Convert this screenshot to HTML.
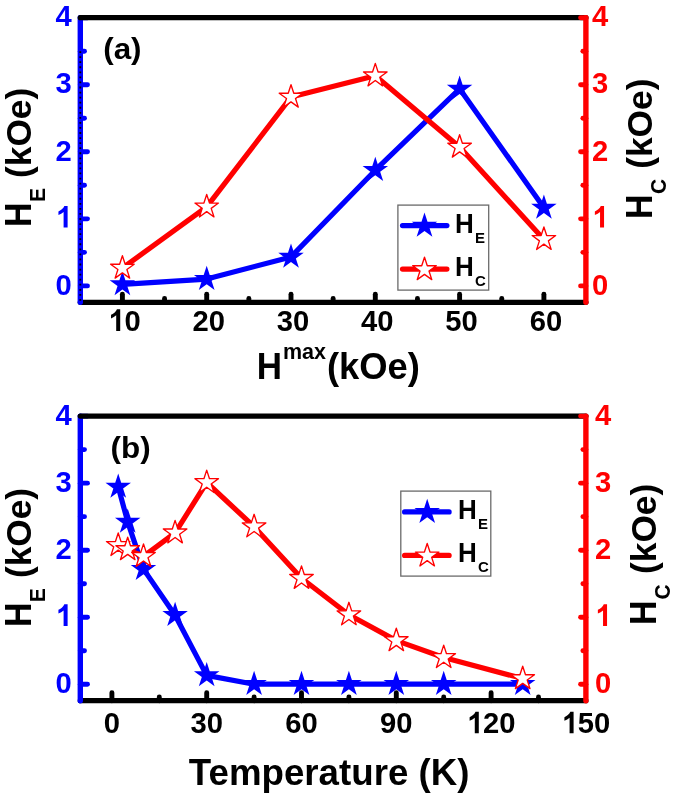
<!DOCTYPE html>
<html><head><meta charset="utf-8"><style>
html,body{margin:0;padding:0;background:#fff;}
svg{display:block;will-change:transform;}
text{font-family:"Liberation Sans",sans-serif;font-weight:bold;}
</style></head><body>
<svg width="675" height="797" viewBox="0 0 675 797">
<rect width="675" height="797" fill="#fff"/>
<polyline points="122.40,284.40 206.70,279.10 291.00,256.90 375.30,170.20 459.60,88.80 543.90,207.80" fill="none" stroke="#0000FF" stroke-width="5.2" stroke-linejoin="round" stroke-linecap="round"/>
<polygon points="122.40,271.00 125.41,280.26 135.14,280.26 127.27,285.98 130.28,295.24 122.40,289.52 114.52,295.24 117.53,285.98 109.66,280.26 119.39,280.26" fill="#0000FF"/>
<polygon points="206.70,265.70 209.71,274.96 219.44,274.96 211.57,280.68 214.58,289.94 206.70,284.22 198.82,289.94 201.83,280.68 193.96,274.96 203.69,274.96" fill="#0000FF"/>
<polygon points="291.00,243.50 294.01,252.76 303.74,252.76 295.87,258.48 298.88,267.74 291.00,262.02 283.12,267.74 286.13,258.48 278.26,252.76 287.99,252.76" fill="#0000FF"/>
<polygon points="375.30,156.80 378.31,166.06 388.04,166.06 380.17,171.78 383.18,181.04 375.30,175.32 367.42,181.04 370.43,171.78 362.56,166.06 372.29,166.06" fill="#0000FF"/>
<polygon points="459.60,75.40 462.61,84.66 472.34,84.66 464.47,90.38 467.48,99.64 459.60,93.92 451.72,99.64 454.73,90.38 446.86,84.66 456.59,84.66" fill="#0000FF"/>
<polygon points="543.90,194.40 546.91,203.66 556.64,203.66 548.77,209.38 551.78,218.64 543.90,212.92 536.02,218.64 539.03,209.38 531.16,203.66 540.89,203.66" fill="#0000FF"/>
<polyline points="122.40,268.10 206.70,206.90 291.00,97.10 375.30,75.80 459.60,147.10 543.90,239.40" fill="none" stroke="#FF0000" stroke-width="5.2" stroke-linejoin="round" stroke-linecap="round"/>
<polygon points="122.40,255.70 125.18,264.27 134.19,264.27 126.90,269.56 129.69,278.13 122.40,272.84 115.11,278.13 117.90,269.56 110.61,264.27 119.62,264.27" fill="#fff" stroke="#FF0000" stroke-width="1.35" stroke-linejoin="round"/>
<polygon points="206.70,194.50 209.48,203.07 218.49,203.07 211.20,208.36 213.99,216.93 206.70,211.64 199.41,216.93 202.20,208.36 194.91,203.07 203.92,203.07" fill="#fff" stroke="#FF0000" stroke-width="1.35" stroke-linejoin="round"/>
<polygon points="291.00,84.70 293.78,93.27 302.79,93.27 295.50,98.56 298.29,107.13 291.00,101.84 283.71,107.13 286.50,98.56 279.21,93.27 288.22,93.27" fill="#fff" stroke="#FF0000" stroke-width="1.35" stroke-linejoin="round"/>
<polygon points="375.30,63.40 378.08,71.97 387.09,71.97 379.80,77.26 382.59,85.83 375.30,80.54 368.01,85.83 370.80,77.26 363.51,71.97 372.52,71.97" fill="#fff" stroke="#FF0000" stroke-width="1.35" stroke-linejoin="round"/>
<polygon points="459.60,134.70 462.38,143.27 471.39,143.27 464.10,148.56 466.89,157.13 459.60,151.84 452.31,157.13 455.10,148.56 447.81,143.27 456.82,143.27" fill="#fff" stroke="#FF0000" stroke-width="1.35" stroke-linejoin="round"/>
<polygon points="543.90,227.00 546.68,235.57 555.69,235.57 548.40,240.86 551.19,249.43 543.90,244.14 536.61,249.43 539.40,240.86 532.11,235.57 541.12,235.57" fill="#fff" stroke="#FF0000" stroke-width="1.35" stroke-linejoin="round"/>
<line x1="80.3" y1="302.3" x2="585.9" y2="302.3" stroke="#000" stroke-width="5.3" stroke-linecap="round"/>
<line x1="122.40" y1="302.3" x2="122.40" y2="294.30" stroke="#000" stroke-width="4.9" stroke-linecap="round"/>
<line x1="206.70" y1="302.3" x2="206.70" y2="294.30" stroke="#000" stroke-width="4.9" stroke-linecap="round"/>
<line x1="291.00" y1="302.3" x2="291.00" y2="294.30" stroke="#000" stroke-width="4.9" stroke-linecap="round"/>
<line x1="375.30" y1="302.3" x2="375.30" y2="294.30" stroke="#000" stroke-width="4.9" stroke-linecap="round"/>
<line x1="459.60" y1="302.3" x2="459.60" y2="294.30" stroke="#000" stroke-width="4.9" stroke-linecap="round"/>
<line x1="543.90" y1="302.3" x2="543.90" y2="294.30" stroke="#000" stroke-width="4.9" stroke-linecap="round"/>
<line x1="164.55" y1="302.3" x2="164.55" y2="298.50" stroke="#000" stroke-width="4.9" stroke-linecap="round"/>
<line x1="248.85" y1="302.3" x2="248.85" y2="298.50" stroke="#000" stroke-width="4.9" stroke-linecap="round"/>
<line x1="333.15" y1="302.3" x2="333.15" y2="298.50" stroke="#000" stroke-width="4.9" stroke-linecap="round"/>
<line x1="417.45" y1="302.3" x2="417.45" y2="298.50" stroke="#000" stroke-width="4.9" stroke-linecap="round"/>
<line x1="501.75" y1="302.3" x2="501.75" y2="298.50" stroke="#000" stroke-width="4.9" stroke-linecap="round"/>
<line x1="80.3" y1="17.7" x2="80.3" y2="302.3" stroke="#0000FF" stroke-width="5.4" stroke-linecap="round"/>
<line x1="80.3" y1="285.90" x2="87.50" y2="285.90" stroke="#0000FF" stroke-width="4.9" stroke-linecap="round"/>
<line x1="80.3" y1="252.37" x2="84.50" y2="252.37" stroke="#0000FF" stroke-width="4.9" stroke-linecap="round"/>
<line x1="80.3" y1="218.85" x2="87.50" y2="218.85" stroke="#0000FF" stroke-width="4.9" stroke-linecap="round"/>
<line x1="80.3" y1="185.32" x2="84.50" y2="185.32" stroke="#0000FF" stroke-width="4.9" stroke-linecap="round"/>
<line x1="80.3" y1="151.80" x2="87.50" y2="151.80" stroke="#0000FF" stroke-width="4.9" stroke-linecap="round"/>
<line x1="80.3" y1="118.27" x2="84.50" y2="118.27" stroke="#0000FF" stroke-width="4.9" stroke-linecap="round"/>
<line x1="80.3" y1="84.75" x2="87.50" y2="84.75" stroke="#0000FF" stroke-width="4.9" stroke-linecap="round"/>
<line x1="80.3" y1="51.22" x2="84.50" y2="51.22" stroke="#0000FF" stroke-width="4.9" stroke-linecap="round"/>
<line x1="80.3" y1="17.70" x2="87.50" y2="17.70" stroke="#0000FF" stroke-width="4.9" stroke-linecap="round"/>
<line x1="80.3" y1="51.2" x2="80.3" y2="302.3" stroke="#000" stroke-width="1.8" stroke-dasharray="1.8 3.257"/>
<line x1="80.3" y1="17.7" x2="585.9" y2="17.7" stroke="#000" stroke-width="5.3" stroke-linecap="round"/>
<line x1="585.9" y1="17.7" x2="585.9" y2="302.3" stroke="#FF0000" stroke-width="5.4" stroke-linecap="round"/>
<line x1="585.9" y1="285.90" x2="580.60" y2="285.90" stroke="#FF0000" stroke-width="4.9" stroke-linecap="round"/>
<line x1="585.9" y1="252.37" x2="582.90" y2="252.37" stroke="#FF0000" stroke-width="4.9" stroke-linecap="round"/>
<line x1="585.9" y1="218.85" x2="580.60" y2="218.85" stroke="#FF0000" stroke-width="4.9" stroke-linecap="round"/>
<line x1="585.9" y1="185.32" x2="582.90" y2="185.32" stroke="#FF0000" stroke-width="4.9" stroke-linecap="round"/>
<line x1="585.9" y1="151.80" x2="580.60" y2="151.80" stroke="#FF0000" stroke-width="4.9" stroke-linecap="round"/>
<line x1="585.9" y1="118.27" x2="582.90" y2="118.27" stroke="#FF0000" stroke-width="4.9" stroke-linecap="round"/>
<line x1="585.9" y1="84.75" x2="580.60" y2="84.75" stroke="#FF0000" stroke-width="4.9" stroke-linecap="round"/>
<line x1="585.9" y1="51.22" x2="582.90" y2="51.22" stroke="#FF0000" stroke-width="4.9" stroke-linecap="round"/>
<line x1="585.9" y1="17.70" x2="580.60" y2="17.70" stroke="#FF0000" stroke-width="4.9" stroke-linecap="round"/>
<text transform="translate(55.56,294.60) scale(1,1.03)" font-size="29.2" fill="#0000FF">0</text>
<text transform="translate(592.00,294.60) scale(1,1.03)" font-size="29.2" fill="#FF0000">0</text>
<path d="M 845 0 L 564 0 L 564 1059 C 461 963 340 891 201 846 L 201 1101 C 274 1125 354 1171 440 1238 C 526 1306 585 1383 617 1471 L 845 1471 Z" fill="#0000FF" transform="translate(55.56,227.55) scale(0.01426,-0.01469)"/>
<path d="M 845 0 L 564 0 L 564 1059 C 461 963 340 891 201 846 L 201 1101 C 274 1125 354 1171 440 1238 C 526 1306 585 1383 617 1471 L 845 1471 Z" fill="#FF0000" transform="translate(592.00,227.55) scale(0.01426,-0.01469)"/>
<text transform="translate(55.56,160.50) scale(1,1.03)" font-size="29.2" fill="#0000FF">2</text>
<text transform="translate(592.00,160.50) scale(1,1.03)" font-size="29.2" fill="#FF0000">2</text>
<text transform="translate(55.56,93.45) scale(1,1.03)" font-size="29.2" fill="#0000FF">3</text>
<text transform="translate(592.00,93.45) scale(1,1.03)" font-size="29.2" fill="#FF0000">3</text>
<text transform="translate(55.56,26.40) scale(1,1.03)" font-size="29.2" fill="#0000FF">4</text>
<text transform="translate(592.00,26.40) scale(1,1.03)" font-size="29.2" fill="#FF0000">4</text>
<path d="M 845 0 L 564 0 L 564 1059 C 461 963 340 891 201 846 L 201 1101 C 274 1125 354 1171 440 1238 C 526 1306 585 1383 617 1471 L 845 1471 Z" fill="#000" transform="translate(108.16,330.90) scale(0.01426,-0.01469)"/><text transform="translate(124.40,330.90) scale(1,1.03)" font-size="29.2" fill="#000">0</text>
<text transform="translate(192.46,330.90) scale(1,1.03)" font-size="29.2" fill="#000">20</text>
<text transform="translate(276.76,330.90) scale(1,1.03)" font-size="29.2" fill="#000">30</text>
<text transform="translate(361.06,330.90) scale(1,1.03)" font-size="29.2" fill="#000">40</text>
<text transform="translate(445.36,330.90) scale(1,1.03)" font-size="29.2" fill="#000">50</text>
<text transform="translate(529.66,330.90) scale(1,1.03)" font-size="29.2" fill="#000">60</text>
<rect x="397.90000000000003" y="205.1" width="90.8" height="85" fill="none" stroke="#6a6a6a" stroke-width="1.3"/>
<line x1="402.5" y1="225.6" x2="446.90000000000003" y2="225.6" stroke="#0000FF" stroke-width="5.2" stroke-linecap="round"/>
<polygon points="424.50,212.50 427.51,221.76 437.24,221.76 429.37,227.48 432.38,236.74 424.50,231.02 416.62,236.74 419.63,227.48 411.76,221.76 421.49,221.76" fill="#0000FF"/>
<line x1="402.5" y1="269.1" x2="446.90000000000003" y2="269.1" stroke="#FF0000" stroke-width="5.2" stroke-linecap="round"/>
<polygon points="424.50,257.20 427.28,265.77 436.29,265.77 429.00,271.06 431.79,279.63 424.50,274.34 417.21,279.63 420.00,271.06 412.71,265.77 421.72,265.77" fill="#fff" stroke="#FF0000" stroke-width="1.35" stroke-linejoin="round"/>
<text transform="translate(455.00,232.60) scale(1,1.04)" font-size="26" fill="#000">H</text>
<text transform="translate(475.10,243.10) scale(1,1.02)" font-size="15" fill="#000">E</text>
<text transform="translate(455.00,276.00) scale(1,1.04)" font-size="26" fill="#000">H</text>
<text transform="translate(475.10,286.30) scale(1,1.02)" font-size="15" fill="#000">C</text>
<text transform="translate(103.20,59.40) scale(1,0.95)" font-size="31.4" fill="#000">(a)</text>
<polyline points="118.22,486.80 127.70,521.90 143.50,569.10 175.10,615.20 206.70,675.40 254.10,684.20 301.50,684.20 348.90,684.20 396.30,684.20 443.70,684.20 522.70,684.20" fill="none" stroke="#0000FF" stroke-width="5.2" stroke-linejoin="round" stroke-linecap="round"/>
<polygon points="118.22,473.40 121.23,482.66 130.96,482.66 123.09,488.38 126.10,497.64 118.22,491.92 110.34,497.64 113.35,488.38 105.48,482.66 115.21,482.66" fill="#0000FF"/>
<polygon points="127.70,508.50 130.71,517.76 140.44,517.76 132.57,523.48 135.58,532.74 127.70,527.02 119.82,532.74 122.83,523.48 114.96,517.76 124.69,517.76" fill="#0000FF"/>
<polygon points="143.50,555.70 146.51,564.96 156.24,564.96 148.37,570.68 151.38,579.94 143.50,574.22 135.62,579.94 138.63,570.68 130.76,564.96 140.49,564.96" fill="#0000FF"/>
<polygon points="175.10,601.80 178.11,611.06 187.84,611.06 179.97,616.78 182.98,626.04 175.10,620.32 167.22,626.04 170.23,616.78 162.36,611.06 172.09,611.06" fill="#0000FF"/>
<polygon points="206.70,662.00 209.71,671.26 219.44,671.26 211.57,676.98 214.58,686.24 206.70,680.52 198.82,686.24 201.83,676.98 193.96,671.26 203.69,671.26" fill="#0000FF"/>
<polygon points="254.10,670.80 257.11,680.06 266.84,680.06 258.97,685.78 261.98,695.04 254.10,689.32 246.22,695.04 249.23,685.78 241.36,680.06 251.09,680.06" fill="#0000FF"/>
<polygon points="301.50,670.80 304.51,680.06 314.24,680.06 306.37,685.78 309.38,695.04 301.50,689.32 293.62,695.04 296.63,685.78 288.76,680.06 298.49,680.06" fill="#0000FF"/>
<polygon points="348.90,670.80 351.91,680.06 361.64,680.06 353.77,685.78 356.78,695.04 348.90,689.32 341.02,695.04 344.03,685.78 336.16,680.06 345.89,680.06" fill="#0000FF"/>
<polygon points="396.30,670.80 399.31,680.06 409.04,680.06 401.17,685.78 404.18,695.04 396.30,689.32 388.42,695.04 391.43,685.78 383.56,680.06 393.29,680.06" fill="#0000FF"/>
<polygon points="443.70,670.80 446.71,680.06 456.44,680.06 448.57,685.78 451.58,695.04 443.70,689.32 435.82,695.04 438.83,685.78 430.96,680.06 440.69,680.06" fill="#0000FF"/>
<polygon points="522.70,670.80 525.71,680.06 535.44,680.06 527.57,685.78 530.58,695.04 522.70,689.32 514.82,695.04 517.83,685.78 509.96,680.06 519.69,680.06" fill="#0000FF"/>
<polyline points="118.22,545.40 127.70,549.60 143.50,556.30 175.10,532.80 206.70,482.50 254.10,526.70 301.50,578.30 348.90,614.70 396.30,640.60 443.70,657.50 522.70,678.60" fill="none" stroke="#FF0000" stroke-width="5.2" stroke-linejoin="round" stroke-linecap="round"/>
<polygon points="118.22,533.00 121.00,541.57 130.01,541.57 122.72,546.86 125.51,555.43 118.22,550.14 110.93,555.43 113.72,546.86 106.43,541.57 115.44,541.57" fill="#fff" stroke="#FF0000" stroke-width="1.35" stroke-linejoin="round"/>
<polygon points="127.70,537.20 130.48,545.77 139.49,545.77 132.20,551.06 134.99,559.63 127.70,554.34 120.41,559.63 123.20,551.06 115.91,545.77 124.92,545.77" fill="#fff" stroke="#FF0000" stroke-width="1.35" stroke-linejoin="round"/>
<polygon points="143.50,543.90 146.28,552.47 155.29,552.47 148.00,557.76 150.79,566.33 143.50,561.04 136.21,566.33 139.00,557.76 131.71,552.47 140.72,552.47" fill="#fff" stroke="#FF0000" stroke-width="1.35" stroke-linejoin="round"/>
<polygon points="175.10,520.40 177.88,528.97 186.89,528.97 179.60,534.26 182.39,542.83 175.10,537.54 167.81,542.83 170.60,534.26 163.31,528.97 172.32,528.97" fill="#fff" stroke="#FF0000" stroke-width="1.35" stroke-linejoin="round"/>
<polygon points="206.70,470.10 209.48,478.67 218.49,478.67 211.20,483.96 213.99,492.53 206.70,487.24 199.41,492.53 202.20,483.96 194.91,478.67 203.92,478.67" fill="#fff" stroke="#FF0000" stroke-width="1.35" stroke-linejoin="round"/>
<polygon points="254.10,514.30 256.88,522.87 265.89,522.87 258.60,528.16 261.39,536.73 254.10,531.44 246.81,536.73 249.60,528.16 242.31,522.87 251.32,522.87" fill="#fff" stroke="#FF0000" stroke-width="1.35" stroke-linejoin="round"/>
<polygon points="301.50,565.90 304.28,574.47 313.29,574.47 306.00,579.76 308.79,588.33 301.50,583.04 294.21,588.33 297.00,579.76 289.71,574.47 298.72,574.47" fill="#fff" stroke="#FF0000" stroke-width="1.35" stroke-linejoin="round"/>
<polygon points="348.90,602.30 351.68,610.87 360.69,610.87 353.40,616.16 356.19,624.73 348.90,619.44 341.61,624.73 344.40,616.16 337.11,610.87 346.12,610.87" fill="#fff" stroke="#FF0000" stroke-width="1.35" stroke-linejoin="round"/>
<polygon points="396.30,628.20 399.08,636.77 408.09,636.77 400.80,642.06 403.59,650.63 396.30,645.34 389.01,650.63 391.80,642.06 384.51,636.77 393.52,636.77" fill="#fff" stroke="#FF0000" stroke-width="1.35" stroke-linejoin="round"/>
<polygon points="443.70,645.10 446.48,653.67 455.49,653.67 448.20,658.96 450.99,667.53 443.70,662.24 436.41,667.53 439.20,658.96 431.91,653.67 440.92,653.67" fill="#fff" stroke="#FF0000" stroke-width="1.35" stroke-linejoin="round"/>
<polygon points="522.70,666.20 525.48,674.77 534.49,674.77 527.20,680.06 529.99,688.63 522.70,683.34 515.41,688.63 518.20,680.06 510.91,674.77 519.92,674.77" fill="#fff" stroke="#FF0000" stroke-width="1.35" stroke-linejoin="round"/>
<line x1="80.3" y1="700.7" x2="585.9" y2="700.7" stroke="#000" stroke-width="5.3" stroke-linecap="round"/>
<line x1="111.90" y1="700.7" x2="111.90" y2="692.70" stroke="#000" stroke-width="4.9" stroke-linecap="round"/>
<line x1="206.70" y1="700.7" x2="206.70" y2="692.70" stroke="#000" stroke-width="4.9" stroke-linecap="round"/>
<line x1="301.50" y1="700.7" x2="301.50" y2="692.70" stroke="#000" stroke-width="4.9" stroke-linecap="round"/>
<line x1="396.30" y1="700.7" x2="396.30" y2="692.70" stroke="#000" stroke-width="4.9" stroke-linecap="round"/>
<line x1="491.10" y1="700.7" x2="491.10" y2="692.70" stroke="#000" stroke-width="4.9" stroke-linecap="round"/>
<line x1="159.30" y1="700.7" x2="159.30" y2="696.90" stroke="#000" stroke-width="4.9" stroke-linecap="round"/>
<line x1="254.10" y1="700.7" x2="254.10" y2="696.90" stroke="#000" stroke-width="4.9" stroke-linecap="round"/>
<line x1="348.90" y1="700.7" x2="348.90" y2="696.90" stroke="#000" stroke-width="4.9" stroke-linecap="round"/>
<line x1="443.70" y1="700.7" x2="443.70" y2="696.90" stroke="#000" stroke-width="4.9" stroke-linecap="round"/>
<line x1="538.50" y1="700.7" x2="538.50" y2="696.90" stroke="#000" stroke-width="4.9" stroke-linecap="round"/>
<line x1="80.3" y1="416.09999999999997" x2="80.3" y2="700.7" stroke="#0000FF" stroke-width="5.4" stroke-linecap="round"/>
<line x1="80.3" y1="684.30" x2="87.50" y2="684.30" stroke="#0000FF" stroke-width="4.9" stroke-linecap="round"/>
<line x1="80.3" y1="650.77" x2="84.50" y2="650.77" stroke="#0000FF" stroke-width="4.9" stroke-linecap="round"/>
<line x1="80.3" y1="617.25" x2="87.50" y2="617.25" stroke="#0000FF" stroke-width="4.9" stroke-linecap="round"/>
<line x1="80.3" y1="583.72" x2="84.50" y2="583.72" stroke="#0000FF" stroke-width="4.9" stroke-linecap="round"/>
<line x1="80.3" y1="550.20" x2="87.50" y2="550.20" stroke="#0000FF" stroke-width="4.9" stroke-linecap="round"/>
<line x1="80.3" y1="516.67" x2="84.50" y2="516.67" stroke="#0000FF" stroke-width="4.9" stroke-linecap="round"/>
<line x1="80.3" y1="483.15" x2="87.50" y2="483.15" stroke="#0000FF" stroke-width="4.9" stroke-linecap="round"/>
<line x1="80.3" y1="449.62" x2="84.50" y2="449.62" stroke="#0000FF" stroke-width="4.9" stroke-linecap="round"/>
<line x1="80.3" y1="416.10" x2="87.50" y2="416.10" stroke="#0000FF" stroke-width="4.9" stroke-linecap="round"/>
<line x1="80.3" y1="416.09999999999997" x2="585.9" y2="416.09999999999997" stroke="#000" stroke-width="5.3" stroke-linecap="round"/>
<line x1="585.9" y1="416.09999999999997" x2="585.9" y2="700.7" stroke="#FF0000" stroke-width="5.4" stroke-linecap="round"/>
<line x1="585.9" y1="684.30" x2="580.60" y2="684.30" stroke="#FF0000" stroke-width="4.9" stroke-linecap="round"/>
<line x1="585.9" y1="650.77" x2="582.90" y2="650.77" stroke="#FF0000" stroke-width="4.9" stroke-linecap="round"/>
<line x1="585.9" y1="617.25" x2="580.60" y2="617.25" stroke="#FF0000" stroke-width="4.9" stroke-linecap="round"/>
<line x1="585.9" y1="583.72" x2="582.90" y2="583.72" stroke="#FF0000" stroke-width="4.9" stroke-linecap="round"/>
<line x1="585.9" y1="550.20" x2="580.60" y2="550.20" stroke="#FF0000" stroke-width="4.9" stroke-linecap="round"/>
<line x1="585.9" y1="516.67" x2="582.90" y2="516.67" stroke="#FF0000" stroke-width="4.9" stroke-linecap="round"/>
<line x1="585.9" y1="483.15" x2="580.60" y2="483.15" stroke="#FF0000" stroke-width="4.9" stroke-linecap="round"/>
<line x1="585.9" y1="449.62" x2="582.90" y2="449.62" stroke="#FF0000" stroke-width="4.9" stroke-linecap="round"/>
<line x1="585.9" y1="416.10" x2="580.60" y2="416.10" stroke="#FF0000" stroke-width="4.9" stroke-linecap="round"/>
<text transform="translate(55.56,693.00) scale(1,1.03)" font-size="29.2" fill="#0000FF">0</text>
<text transform="translate(595.00,693.00) scale(1,1.03)" font-size="29.2" fill="#FF0000">0</text>
<path d="M 845 0 L 564 0 L 564 1059 C 461 963 340 891 201 846 L 201 1101 C 274 1125 354 1171 440 1238 C 526 1306 585 1383 617 1471 L 845 1471 Z" fill="#0000FF" transform="translate(55.56,625.95) scale(0.01426,-0.01469)"/>
<path d="M 845 0 L 564 0 L 564 1059 C 461 963 340 891 201 846 L 201 1101 C 274 1125 354 1171 440 1238 C 526 1306 585 1383 617 1471 L 845 1471 Z" fill="#FF0000" transform="translate(595.00,625.95) scale(0.01426,-0.01469)"/>
<text transform="translate(55.56,558.90) scale(1,1.03)" font-size="29.2" fill="#0000FF">2</text>
<text transform="translate(595.00,558.90) scale(1,1.03)" font-size="29.2" fill="#FF0000">2</text>
<text transform="translate(55.56,491.85) scale(1,1.03)" font-size="29.2" fill="#0000FF">3</text>
<text transform="translate(595.00,491.85) scale(1,1.03)" font-size="29.2" fill="#FF0000">3</text>
<text transform="translate(55.56,424.80) scale(1,1.03)" font-size="29.2" fill="#0000FF">4</text>
<text transform="translate(595.00,424.80) scale(1,1.03)" font-size="29.2" fill="#FF0000">4</text>
<text transform="translate(103.78,733.30) scale(1,1.03)" font-size="29.2" fill="#000">0</text>
<text transform="translate(190.46,733.30) scale(1,1.03)" font-size="29.2" fill="#000">30</text>
<text transform="translate(285.26,733.30) scale(1,1.03)" font-size="29.2" fill="#000">60</text>
<text transform="translate(380.06,733.30) scale(1,1.03)" font-size="29.2" fill="#000">90</text>
<path d="M 845 0 L 564 0 L 564 1059 C 461 963 340 891 201 846 L 201 1101 C 274 1125 354 1171 440 1238 C 526 1306 585 1383 617 1471 L 845 1471 Z" fill="#000" transform="translate(466.74,733.30) scale(0.01426,-0.01469)"/><text transform="translate(482.98,733.30) scale(1,1.03)" font-size="29.2" fill="#000">20</text>
<path d="M 845 0 L 564 0 L 564 1059 C 461 963 340 891 201 846 L 201 1101 C 274 1125 354 1171 440 1238 C 526 1306 585 1383 617 1471 L 845 1471 Z" fill="#000" transform="translate(561.54,733.30) scale(0.01426,-0.01469)"/><text transform="translate(577.78,733.30) scale(1,1.03)" font-size="29.2" fill="#000">50</text>
<rect x="400.8" y="491.1" width="90.0" height="85" fill="none" stroke="#6a6a6a" stroke-width="1.3"/>
<line x1="404.59999999999997" y1="511.90000000000003" x2="449.09999999999997" y2="511.90000000000003" stroke="#0000FF" stroke-width="5.2" stroke-linecap="round"/>
<polygon points="427.20,498.80 430.21,508.06 439.94,508.06 432.07,513.78 435.08,523.04 427.20,517.32 419.32,523.04 422.33,513.78 414.46,508.06 424.19,508.06" fill="#0000FF"/>
<line x1="404.59999999999997" y1="555.4" x2="449.09999999999997" y2="555.4" stroke="#FF0000" stroke-width="5.2" stroke-linecap="round"/>
<polygon points="427.20,543.50 429.98,552.07 438.99,552.07 431.70,557.36 434.49,565.93 427.20,560.64 419.91,565.93 422.70,557.36 415.41,552.07 424.42,552.07" fill="#fff" stroke="#FF0000" stroke-width="1.35" stroke-linejoin="round"/>
<text transform="translate(457.90,518.60) scale(1,1.04)" font-size="26" fill="#000">H</text>
<text transform="translate(478.00,529.10) scale(1,1.02)" font-size="15" fill="#000">E</text>
<text transform="translate(457.90,562.00) scale(1,1.04)" font-size="26" fill="#000">H</text>
<text transform="translate(478.00,572.30) scale(1,1.02)" font-size="15" fill="#000">C</text>
<text transform="translate(110.60,458.40) scale(1,0.95)" font-size="31.4" fill="#000">(b)</text>
<text transform="translate(31.00,227.00) rotate(-90) scale(1,1.07)" font-size="34" fill="#000">H</text>
<text transform="translate(44.50,202.10) rotate(-90) scale(1,1.04)" font-size="21" fill="#000">E</text>
<text transform="translate(30.90,178.00) rotate(-90) scale(1,1.0)" font-size="35.3" fill="#000">(kOe)</text>
<text transform="translate(652.30,219.00) rotate(-90) scale(1,1.07)" font-size="34" fill="#000">H</text>
<text transform="translate(666.00,194.00) rotate(-90) scale(1,1.04)" font-size="21" fill="#000">C</text>
<text transform="translate(652.00,168.80) rotate(-90) scale(1,1.0)" font-size="35.3" fill="#000">(kOe)</text>
<text transform="translate(31.00,627.10) rotate(-90) scale(1,1.07)" font-size="34" fill="#000">H</text>
<text transform="translate(44.60,602.30) rotate(-90) scale(1,1.04)" font-size="21" fill="#000">E</text>
<text transform="translate(30.90,578.10) rotate(-90) scale(1,1.0)" font-size="35.3" fill="#000">(kOe)</text>
<text transform="translate(656.00,624.90) rotate(-90) scale(1,1.07)" font-size="34" fill="#000">H</text>
<text transform="translate(670.00,599.40) rotate(-90) scale(1,1.04)" font-size="21" fill="#000">C</text>
<text transform="translate(655.70,574.00) rotate(-90) scale(1,1.0)" font-size="35.3" fill="#000">(kOe)</text>
<text transform="translate(256.80,378.90) scale(1,1.04)" font-size="35" fill="#000">H</text>
<text transform="translate(283.00,358.80) scale(1,1.0)" font-size="21.5" fill="#000">max</text>
<text transform="translate(326.90,378.90) scale(1,0.99)" font-size="36.4" fill="#000">(kOe)</text>
<text transform="translate(188.80,785.20) scale(1,1.01)" font-size="36.7" fill="#000">Temperature (K)</text>
</svg>
</body></html>
